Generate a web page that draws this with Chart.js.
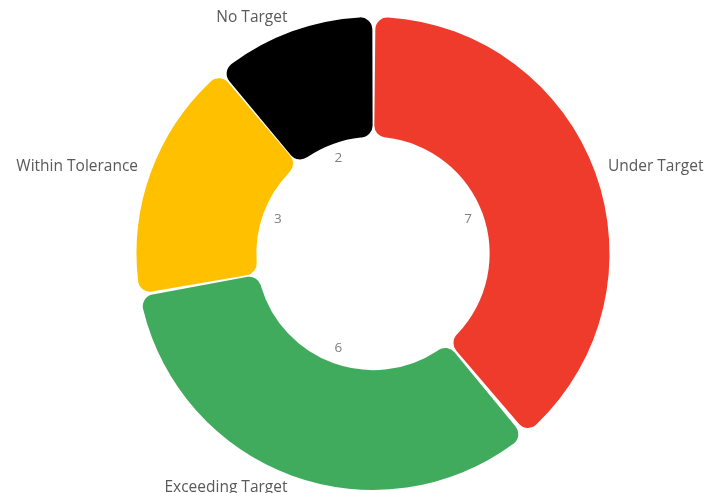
<!DOCTYPE html>
<html>
<head>
<meta charset="utf-8">
<script src="https://cdn.jsdelivr.net/npm/chart.js@4"></script>
<style>
  html, body { margin: 0; padding: 0; background: #fff; }
  #wrap { width: 704px; height: 493px; }
</style>
</head>
<body>
<div id="wrap"><canvas id="donutCanvas"></canvas></div>
<script>
const categories = ['Under Target', 'Exceeding Target', 'Within Tolerance', 'No Target'];
const counts = [7, 6, 3, 2];
const colours = ['#ef3b2c', '#41ab5d', '#ffc000', '#000000'];

// draws the category names outside and the counts inside the hole
const sliceLabels = {
    id: 'sliceLabels',
    afterDatasetsDraw(chart) {
        const ctx = chart.ctx;
        const meta = chart.getDatasetMeta(0);
        ctx.save();
        for (let i = 0; i < meta.data.length; i++) {
            const arc = meta.data[i];
            const mid = (arc.startAngle + arc.endAngle) / 2;
            const cx = Math.cos(mid);
            const cy = Math.sin(mid);

            const rOut = arc.outerRadius + 15;
            ctx.font = '15.5px "Open Sans"';
            ctx.fillStyle = '#595959';
            ctx.textBaseline = 'middle';
            ctx.textAlign = cx >= 0 ? 'left' : 'right';
            ctx.fillText(categories[i], arc.x + cx * rOut, arc.y + cy * rOut - 1);

            const rIn = arc.innerRadius - 14;
            ctx.font = '13.5px "Open Sans"';
            ctx.fillStyle = '#808080';
            ctx.textAlign = 'center';
            ctx.fillText(String(counts[i]), arc.x + cx * rIn, arc.y + cy * rIn);
        }
        ctx.restore();
    }
};

const ctx = document.getElementById('donutCanvas').getContext('2d');
const donut = new Chart(ctx, {
    type: 'doughnut',
    data: {
        labels: categories,
        datasets: [{
            data: counts,
            backgroundColor: colours,
            borderWidth: 0,
            borderRadius: 12,
            spacing: 3
        }]
    },
    options: {
        responsive: true,
        maintainAspectRatio: false,
        animation: false,
        cutout: '49%',
        layout: { padding: { top: 17, bottom: 3, left: 42, right: 0 } },
        plugins: {
            legend: { display: false },
            tooltip: { enabled: false }
        }
    },
    plugins: [sliceLabels]
});
</script>
</body>
</html>
